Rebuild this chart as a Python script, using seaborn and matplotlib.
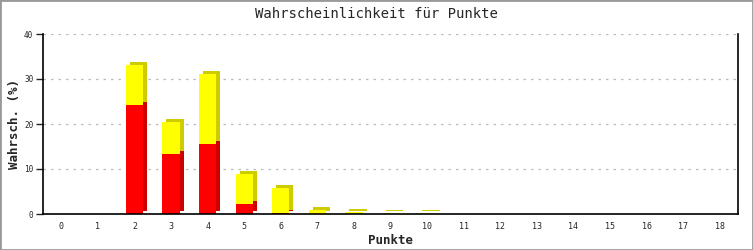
import matplotlib
matplotlib.use("Agg")
import matplotlib.pyplot as plt
import matplotlib.transforms as mtransforms
import seaborn as sns
import pandas as pd

punkte = [str(i) for i in range(19)]
gesamt = [0, 0, 33.2, 20.4, 31.1, 8.9, 5.7, 0.85, 0.5, 0.15, 0.12, 0, 0, 0, 0, 0, 0, 0, 0]
rot = [0, 0, 24.3, 13.4, 15.5, 2.3, 0.3, 0, 0, 0, 0, 0, 0, 0, 0, 0, 0, 0, 0]
y_ticks = [0, 10, 20, 30, 40]

df = pd.DataFrame({"Punkte": punkte, "gesamt": gesamt, "rot": rot})

sns.set_style("white")
plt.rcParams["font.family"] = ["DejaVu Sans Mono"]

fig = plt.figure(figsize=(7.53, 2.5), dpi=100)
ax = fig.add_axes([43 / 753, 36 / 250, (738 - 43) / 753, (215 - 35) / 250])

W = 0.47
off = mtransforms.ScaledTranslation(4 / 100, 3 / 100, fig.dpi_scale_trans)

def draw(col, color, shifted):
    n0 = len(ax.patches)
    sns.barplot(data=df, x="Punkte", y=col, order=punkte, color=color,
                saturation=1, width=W, ax=ax, errorbar=None, linewidth=0)
    if shifted:
        for p in ax.patches[n0:]:
            p.set_transform(ax.transData + off)

draw("gesamt", "#cccc00", True)
draw("rot", "#cc0000", True)
draw("gesamt", "#ffff00", False)
draw("rot", "#ff0000", False)

ax.set_xlim(-0.5, 18.5)
ax.set_ylim(0, 40)
ax.set_yticks(y_ticks)
ax.yaxis.grid(True, linestyle=(0, (2, 4)), color="#bbbbbb", linewidth=0.9)
ax.set_axisbelow(True)
for s in ["left", "bottom", "right"]:
    ax.spines[s].set_visible(True)
    ax.spines[s].set_color("black")
    ax.spines[s].set_linewidth(1.2)
ax.spines["top"].set_visible(False)
ax.tick_params(axis="y", length=5, width=1, direction="out", labelsize=5.5, left=True, pad=2)
ax.tick_params(axis="x", length=0, labelsize=6, pad=6)
ax.set_xlabel("Punkte", fontsize=9, fontweight="bold", labelpad=2)
ax.set_ylabel("Wahrsch. (%)", fontsize=9, fontweight="bold")
ax.yaxis.set_label_coords(-22 / 695, 0.5)
fig.text(0.5, 1 - 14 / 250, "Wahrscheinlichkeit für Punkte", ha="center", va="center", fontsize=10)

border = plt.Rectangle((0, 0), 1, 1, transform=fig.transFigure, fill=False,
                       edgecolor="#999999", linewidth=2)
fig.patches.append(border)

fig.savefig("out.png", dpi=100)
